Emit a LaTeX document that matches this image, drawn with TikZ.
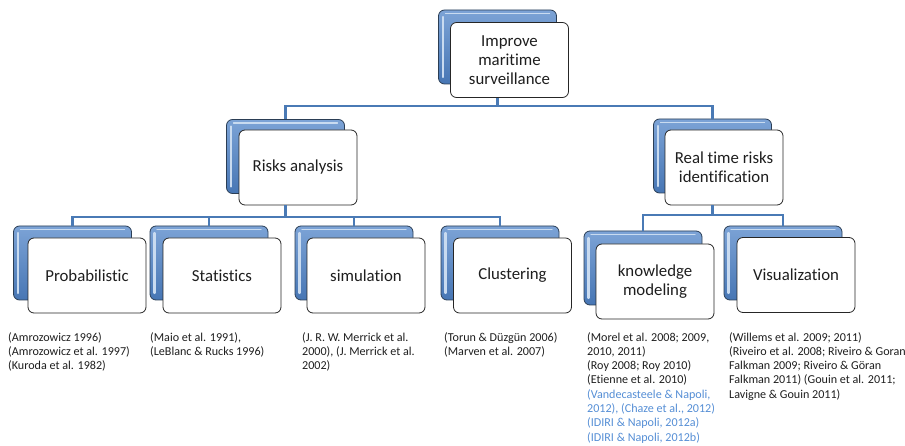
\documentclass[tikz,border=0pt]{standalone}
\usepackage{fontspec}
\setmainfont{Carlito}[Ligatures={NoCommon,NoDiscretionary,NoRare}]
\usetikzlibrary{calc}
\definecolor{txt}{HTML}{1E1E1E}
\definecolor{refblue}{HTML}{558ED5}
\definecolor{conn}{HTML}{4A7AB5}
\definecolor{bluetop}{HTML}{7CA3D6}
\definecolor{bluebot}{HTML}{4776B4}
\definecolor{blueedge}{HTML}{2B3E55}
\definecolor{hilite}{HTML}{C9DBF0}
\tikzset{
  backbox/.style={rounded corners=6pt, minimum width=118pt, minimum height=74pt,
    inner sep=0pt, draw=blueedge, line width=0.8pt, top color=bluetop, bottom color=bluebot,
    path picture={
      \draw[hilite, line width=2.2pt, line cap=round]
        ([shift={(4.5pt,-7pt)}]path picture bounding box.north west) --
        ([shift={(4.5pt,7pt)}]path picture bounding box.south west);
      \draw[hilite, line width=1.2pt, line cap=round]
        ([shift={(7pt,-3.5pt)}]path picture bounding box.north west) --
        ([shift={(-7pt,-3.5pt)}]path picture bounding box.north east);
    }},
  frontbox/.style={rounded corners=6pt, minimum width=118pt, minimum height=75pt,
    inner sep=2pt, draw=black!85, line width=0.8pt, fill=white, align=center,
    font=\fontsize{16.8}{19}\selectfont, text=txt},
  conline/.style={draw=conn, line width=2.6pt},
  reftext/.style={anchor=north west, inner sep=0pt, align=left,
    font=\fontsize{12.1}{14.3}\selectfont, text=txt}
}
\begin{document}
\begin{tikzpicture}[x=1pt,y=-1pt]
\useasboundingbox (0,0) rectangle (905,446);
% bus coordinates
\coordinate (bus0) at (0,106);
\coordinate (bus1) at (0,217);
\coordinate (bus2) at (0,215);

% level 1
\node[backbox] (b0) at (497.5,47) {};
\node[frontbox] (w0) at (509.5,60) {Improve\\maritime\\surveillance};
% level 2
\node[backbox] (b1) at (285.5,156.5) {};
\node[frontbox] (w1) at (298,167.5) {Risks analysis};
\node[backbox] (b2) at (712.5,156) {};
\node[frontbox] (w2) at (724,167.5) {Real time risks\\identification};
% level 3
\node[backbox] (b3) at (72.5,263) {};
\node[frontbox] (w3) at (87,275.5) {Probabilistic};
\node[backbox] (b4) at (209,263) {};
\node[frontbox] (w4) at (222,275.5) {Statistics};
\node[backbox] (b5) at (354,263) {};
\node[frontbox] (w5) at (366,275.5) {simulation};
\node[backbox] (b6) at (500,263) {};
\node[frontbox] (w6) at (512.5,275.5) {Clustering};
\node[backbox] (b7) at (643,268) {};
\node[frontbox] (w7) at (655,281.5) {knowledge\\modeling};
\node[backbox] (b8) at (783,263) {};
\node[frontbox] (w8) at (796,275) {Visualization};

% connectors
\draw[conline] (w0.south -| b0.north) -- (b0 |- bus0) -| (b1.north);
\draw[conline] (b0 |- bus0) -| (b2.north);
\draw[conline] (w1.south -| b1.north) -- (b1 |- bus1) -| (b3.north);
\draw[conline] (b1 |- bus1) -| (b4.north);
\draw[conline] (b1 |- bus1) -| (b5.north);
\draw[conline] (b1 |- bus1) -| (b6.north);
\draw[conline] (w2.south -| b2.north) -- (b2 |- bus2) -| (b7.north);
\draw[conline] (b2 |- bus2) -| (b8.north);

% references
\node[reftext] (r1) at (8,332) {(Amrozowicz 1996)\\(Amrozowicz et al. 1997)\\(Kuroda et al. 1982)};
\node[reftext] (r2) at (150,332) {(Maio et al. 1991),\\(LeBlanc \& Rucks 1996)};
\node[reftext] (r3) at (302,332) {(J. R. W. Merrick et al.\\2000), (J. Merrick et al.\\2002)};
\node[reftext] (r4) at (444,332) {(Torun \& Düzgün 2006)\\(Marven et al. 2007)};
\node[reftext] (r5) at (587,332) {(Morel et al. 2008; 2009,\\2010, 2011)\\(Roy 2008; Roy 2010)\\(Etienne et al. 2010)\\
  \textcolor{refblue}{(Vandecasteele \& Napoli,}\\\textcolor{refblue}{2012), (Chaze et al., 2012)}\\\textcolor{refblue}{(IDIRI \& Napoli, 2012a)}\\\textcolor{refblue}{(IDIRI \& Napoli, 2012b)}};
\node[reftext] (r6) at (729,332) {(Willems et al. 2009; 2011)\\(Riveiro et al. 2008; Riveiro \& Goran\\Falkman 2009; Riveiro \& Göran\\Falkman 2011) (Gouin et al. 2011;\\Lavigne \& Gouin 2011)};
\end{tikzpicture}
\end{document}
